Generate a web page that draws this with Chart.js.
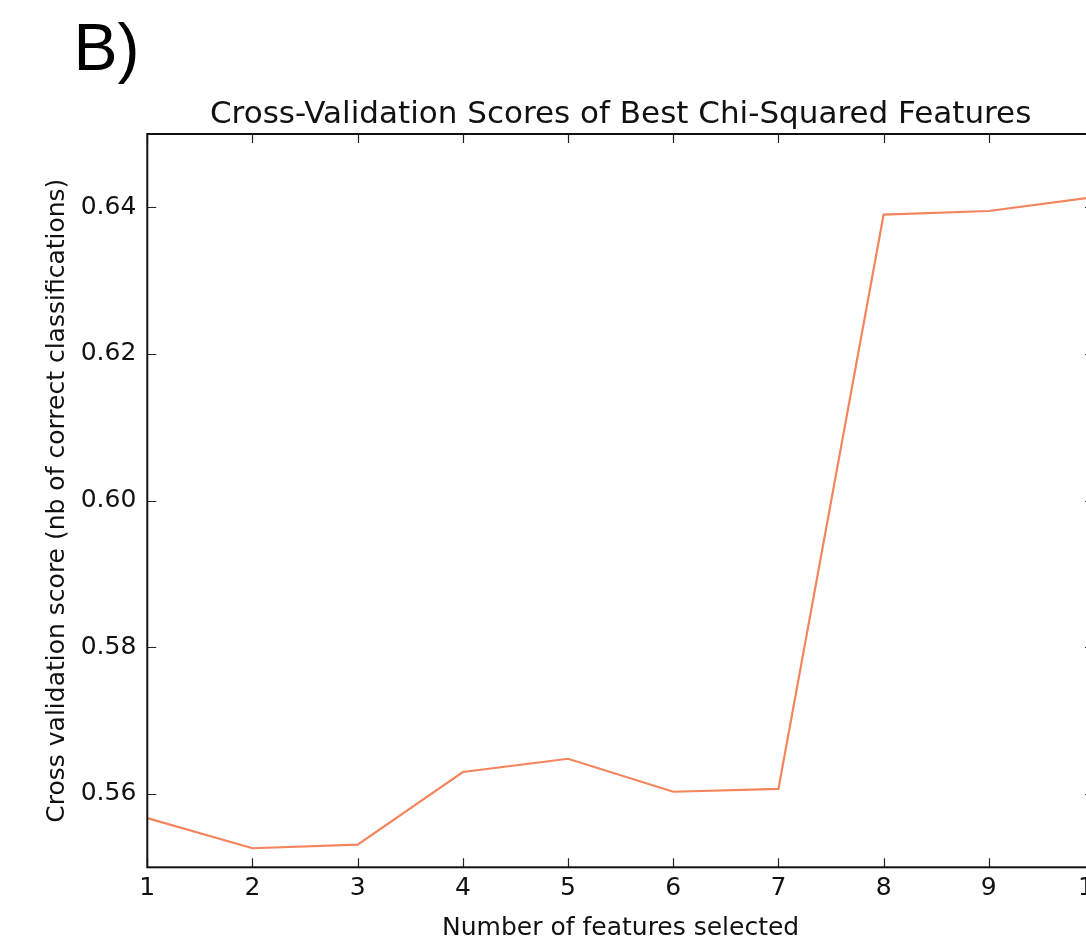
<!DOCTYPE html>
<html>
<head>
<meta charset="utf-8">
<script src="https://cdn.jsdelivr.net/npm/chart.js@4.4.1/dist/chart.umd.min.js"></script>
<style>
  html, body { margin: 0; padding: 0; background: #fff; overflow: hidden; width: 1086px; height: 936px; }
  #wrap { position: absolute; left: 0; top: 0; width: 1120px; height: 960px; }
  canvas { display: block; }
</style>
</head>
<body>
<div id="wrap"><canvas id="c" width="1120" height="960"></canvas></div>
<script>
// Number of selected features and mean cross-validation score for each
const featureCounts = [1, 2, 3, 4, 5, 6, 7, 8, 9, 10];
const cvScores = [0.5567, 0.5526, 0.5531, 0.5630, 0.5648, 0.5603, 0.5607, 0.6390, 0.6395, 0.6414];
const xTickValues = [1, 2, 3, 4, 5, 6, 7, 8, 9, 10];
const yTickValues = [0.56, 0.58, 0.60, 0.62, 0.64];

const panelLabel = 'B)';
const chartTitle = 'Cross-Validation Scores of Best Chi-Squared Features';
const xTitle = 'Number of features selected';
const yTitle = 'Cross validation score (nb of correct classifications)';

const FONT = '"DejaVu Sans", sans-serif';

// Frame, inward tick marks, title and panel letter
const framePlugin = {
  id: 'frame',
  afterDraw(chart) {
    const { ctx, chartArea: a, scales } = chart;
    const x = scales.x, y = scales.y;
    const tl = 9;
    ctx.save();
    ctx.strokeStyle = '#222';
    ctx.lineWidth = 1.2;
    ctx.beginPath();
    x.ticks.forEach(t => {
      const px = Math.round(x.getPixelForValue(t.value)) + 0.5;
      ctx.moveTo(px, a.bottom); ctx.lineTo(px, a.bottom - tl);
      ctx.moveTo(px, a.top); ctx.lineTo(px, a.top + tl);
    });
    y.ticks.forEach(t => {
      const py = Math.round(y.getPixelForValue(t.value)) + 0.5;
      ctx.moveTo(a.left, py); ctx.lineTo(a.left + tl, py);
      ctx.moveTo(a.right, py); ctx.lineTo(a.right - tl, py);
    });
    ctx.stroke();
    ctx.strokeStyle = '#111';
    ctx.lineWidth = 2;
    ctx.strokeRect(a.left, a.top, a.right - a.left, a.bottom - a.top);

    ctx.fillStyle = '#111';
    ctx.textAlign = 'center';
    ctx.textBaseline = 'alphabetic';
    ctx.font = '31px ' + FONT;
    ctx.fillText(chartTitle, (a.left + a.right) / 2, 123);

    ctx.fillStyle = '#000';
    ctx.textAlign = 'left';
    ctx.font = '66px "Liberation Sans", Arial, sans-serif';
    ctx.fillText(panelLabel, 73.5, 70);
    ctx.restore();
  }
};

new Chart(document.getElementById('c'), {
  type: 'line',
  data: {
    datasets: [{
      data: featureCounts.map((f, i) => ({ x: f, y: cvScores[i] })),
      borderColor: '#f4845c',
      borderWidth: 2.2,
      pointRadius: 0,
      tension: 0,
      fill: false
    }]
  },
  options: {
    responsive: false,
    animation: false,
    events: [],
    layout: { padding: { left: 0, top: 134, right: 26, bottom: 0 } },
    plugins: { legend: { display: false }, tooltip: { enabled: false }, title: { display: false } },
    scales: {
      x: {
        type: 'linear',
        min: 1,
        max: 10,
        afterBuildTicks: s => { s.ticks = xTickValues.map(v => ({ value: v })); },
        afterFit: s => { s.height = 92.7; },
        grid: { display: false, drawTicks: false },
        border: { display: false },
        ticks: {
          color: '#111',
          padding: 6,
          maxRotation: 0,
          autoSkip: false,
          font: { family: FONT, size: 25 },
          callback: v => String(v)
        },
        title: {
          display: true,
          text: xTitle,
          color: '#111',
          padding: { top: 0, bottom: 17 },
          font: { family: FONT, size: 25 }
        }
      },
      y: {
        type: 'linear',
        min: 0.55,
        max: 0.65,
        afterBuildTicks: s => { s.ticks = yTickValues.map(v => ({ value: v })); },
        afterFit: s => { s.width = 147.3; },
        grid: { display: false, drawTicks: false },
        border: { display: false },
        ticks: {
          color: '#111',
          padding: 11,
          autoSkip: false,
          font: { family: FONT, size: 25 },
          callback: v => Number(v).toFixed(2)
        },
        title: {
          display: true,
          text: yTitle,
          color: '#111',
          padding: { top: 42, bottom: 0 },
          font: { family: FONT, size: 25 }
        }
      }
    }
  },
  plugins: [framePlugin]
});
</script>
</body>
</html>
